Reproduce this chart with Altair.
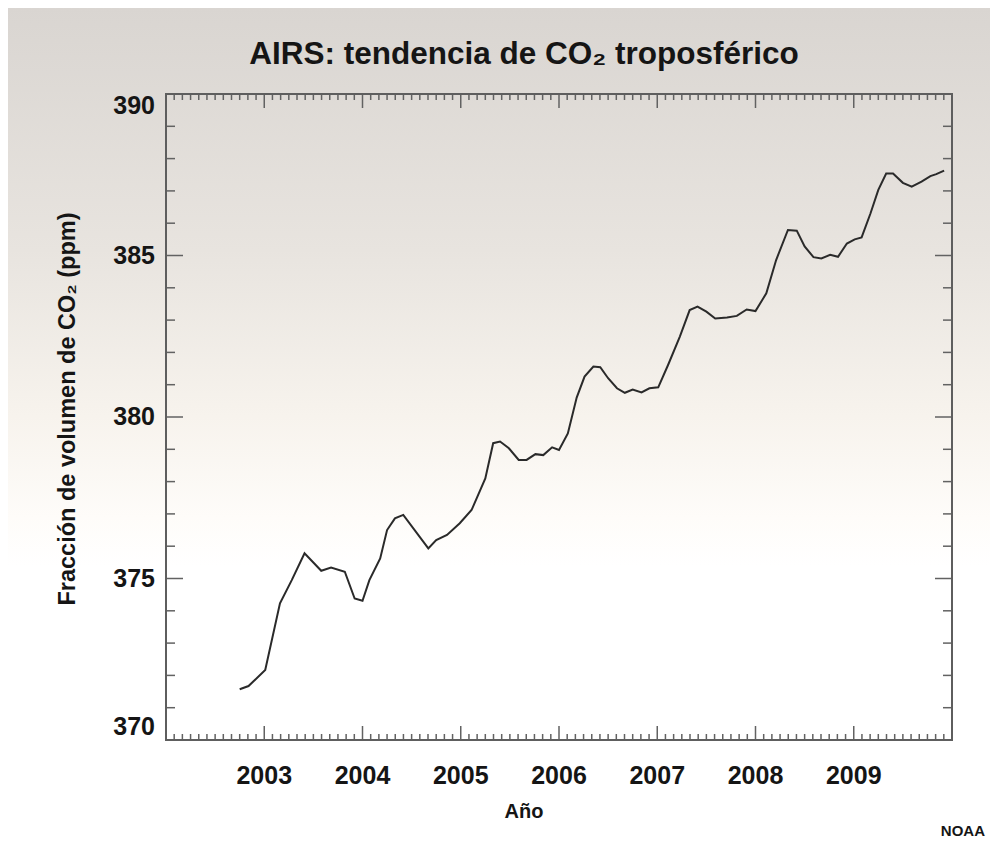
import altair as alt
import pandas as pd

# ---- data ----
years = [2002.75, 2002.84, 2003.01, 2003.16, 2003.28, 2003.41, 2003.58, 2003.68, 2003.82, 2003.92,
         2004.00, 2004.07, 2004.18, 2004.25, 2004.33, 2004.415, 2004.67, 2004.75, 2004.86, 2004.99,
         2005.11, 2005.25, 2005.33, 2005.40, 2005.49, 2005.59, 2005.67, 2005.76, 2005.84, 2005.93,
         2006.00, 2006.09, 2006.18, 2006.26, 2006.35, 2006.42, 2006.50, 2006.59, 2006.67, 2006.75,
         2006.84, 2006.92, 2007.01, 2007.11, 2007.23, 2007.33, 2007.41, 2007.50, 2007.59, 2007.71,
         2007.81, 2007.91, 2008.00, 2008.11, 2008.21, 2008.33, 2008.42, 2008.50, 2008.59, 2008.67,
         2008.76, 2008.84, 2008.93, 2009.01, 2009.08, 2009.17, 2009.25, 2009.33, 2009.40, 2009.50,
         2009.59, 2009.69, 2009.78, 2009.84, 2009.92]
co2 = [371.57, 371.67, 372.17, 374.23, 374.95, 375.78, 375.24, 375.34, 375.21, 374.38,
       374.31, 374.95, 375.62, 376.50, 376.86, 376.97, 375.93, 376.19, 376.35, 376.71,
       377.12, 378.10, 379.19, 379.24, 379.03, 378.67, 378.67, 378.85, 378.82, 379.06,
       378.98, 379.49, 380.60, 381.25, 381.56, 381.54, 381.20, 380.89, 380.75, 380.85,
       380.76, 380.89, 380.92, 381.61, 382.49, 383.31, 383.42, 383.26, 383.05, 383.08,
       383.13, 383.33, 383.28, 383.83, 384.86, 385.79, 385.77, 385.28, 384.95, 384.91,
       385.02, 384.96, 385.37, 385.50, 385.56, 386.30, 387.03, 387.54, 387.54, 387.25,
       387.13, 387.29, 387.46, 387.52, 387.63]

x_label_years = [2003, 2004, 2005, 2006, 2007, 2008, 2009]
x_major_ticks = [2002, 2003, 2004, 2005, 2006, 2007, 2008, 2009, 2010]
x_minor_ticks = [2002 + m / 12 for m in range(0, 97) if m % 12 != 0]
y_major_ticks = [370, 375, 380, 385, 390]
y_minor_ticks = [v for v in range(370, 391) if v % 5 != 0]

title_text = "AIRS: tendencia de CO₂ troposférico"
x_title = "Año"
y_title = "Fracción de volumen de CO₂ (ppm)"
credit = "NOAA"

# ---- layout ----
W, H = 786, 646
PL, PT, PR, PB = 158, 86, 38, 102
FONT = "Liberation Sans"
INK = "#151515"
TICK_COLOR = "#626262"

xs = alt.Scale(domain=[2002, 2010], nice=False, zero=False)
ys = alt.Scale(domain=[370, 390], nice=False, zero=False)

df = pd.DataFrame({"year": years, "co2": co2})
one = pd.DataFrame({"k": [0]})

background = alt.Chart(one).mark_rect(
    fill=alt.Gradient(
        gradient="linear",
        stops=[
            alt.GradientStop(color="#d9d5d1", offset=0),
            alt.GradientStop(color="#e8e4df", offset=0.29),
            alt.GradientStop(color="#f7f3ed", offset=0.49),
            alt.GradientStop(color="#fefcf9", offset=0.61),
            alt.GradientStop(color="#ffffff", offset=0.67),
            alt.GradientStop(color="#ffffff", offset=1),
        ],
        x1=0, x2=0, y1=0, y2=1,
    )
).encode(
    x=alt.value(-PL), x2=alt.value(W + PR), y=alt.value(-PT), y2=alt.value(H + PB)
)

line = alt.Chart(df).mark_line(color="#2a2a2a", strokeWidth=2).encode(
    x=alt.X("year:Q", scale=xs, axis=None),
    y=alt.Y("co2:Q", scale=ys, axis=None),
)


def xticks(vals, length, top):
    d = pd.DataFrame({"t": vals})
    base = 0 if top else H
    end = length if top else H - length
    return alt.Chart(d).mark_rule(color=TICK_COLOR, strokeWidth=1.5).encode(
        x=alt.X("t:Q", scale=xs, axis=None), y=alt.value(base), y2=alt.value(end)
    )


def yticks(vals, length, right):
    d = pd.DataFrame({"t": vals})
    base = W if right else 0
    end = W - length if right else length
    return alt.Chart(d).mark_rule(color=TICK_COLOR, strokeWidth=1.5).encode(
        y=alt.Y("t:Q", scale=ys, axis=None), x=alt.value(base), x2=alt.value(end)
    )


# tick labels, placed through the scales
x_labels = alt.Chart(pd.DataFrame({"t": x_label_years})).mark_text(
    font=FONT, fontSize=25, fontWeight="bold", color=INK, baseline="middle", align="center"
).encode(
    x=alt.X("t:Q", scale=xs, axis=None), y=alt.value(H + 36), text=alt.Text("t:Q", format="d")
)


def y_labels(vals, baseline):
    return alt.Chart(pd.DataFrame({"t": vals})).mark_text(
        font=FONT, fontSize=25, fontWeight="bold", color=INK, baseline=baseline, align="right"
    ).encode(
        y=alt.Y("t:Q", scale=ys, axis=None), x=alt.value(-11), text=alt.Text("t:Q", format="d")
    )


frame = alt.Chart(one).mark_rect(
    fillOpacity=0, stroke="#5e5e5e", strokeWidth=2
).encode(x=alt.value(0), x2=alt.value(W), y=alt.value(0), y2=alt.value(H))

title = alt.Chart(one).mark_text(
    text=title_text, font=FONT, fontSize=31.5, fontWeight="bold", color=INK,
    align="center", baseline="alphabetic"
).encode(x=alt.value(358), y=alt.value(-30))

xtitle = alt.Chart(one).mark_text(
    text=x_title, font=FONT, fontSize=20, fontWeight="bold", color=INK,
    align="center", baseline="middle"
).encode(x=alt.value(358), y=alt.value(H + 72))

ytitle = alt.Chart(one).mark_text(
    text=y_title, font=FONT, fontSize=23.5, fontWeight="bold", color=INK,
    align="center", baseline="middle", angle=270
).encode(x=alt.value(-98), y=alt.value(315))

note = alt.Chart(one).mark_text(
    text=credit, align="right", baseline="middle", font=FONT, fontSize=15,
    fontWeight="bold", color=INK
).encode(x=alt.value(985 - 166), y=alt.value(831 - 94))

chart = alt.layer(
    background,
    xticks(x_minor_ticks, 6, False), xticks(x_major_ticks, 14, False),
    xticks(x_minor_ticks, 6, True), xticks(x_major_ticks, 14, True),
    yticks(y_minor_ticks, 9, False), yticks(y_major_ticks, 17, False),
    yticks(y_minor_ticks, 9, True), yticks(y_major_ticks, 17, True),
    line, frame,
    x_labels,
    y_labels([375, 380, 385], "middle"), y_labels([390], "top"), y_labels([370], "bottom"),
    title, xtitle, ytitle, note,
).properties(
    width=W, height=H,
    autosize=alt.AutoSizeParams(type="none"),
    padding={"left": PL, "top": PT, "right": PR, "bottom": PB},
    background="white",
).configure_view(strokeWidth=0)

chart.save("out.html", embed_options={"renderer": "svg", "actions": False})
